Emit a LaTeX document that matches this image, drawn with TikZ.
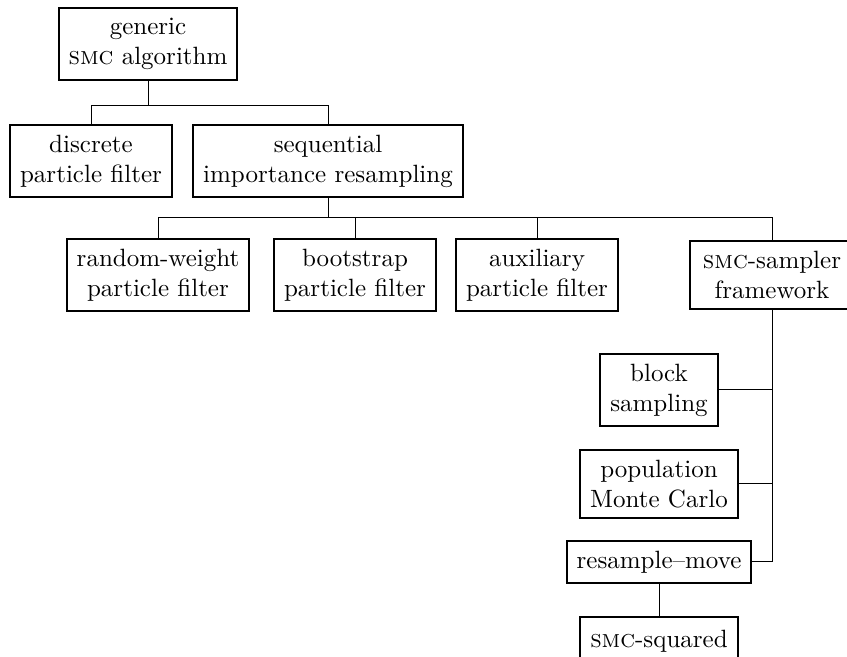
\documentclass[tikz,border=0pt]{standalone}
\usepackage{tikz}
\usetikzlibrary{positioning,calc}

\begin{document}
\begin{tikzpicture}[x=0.4pt,y=-0.4pt,
          every node/.style={font=\normalsize},
          box/.style={draw,line width=0.8pt,align=center,inner xsep=4pt,inner ysep=4pt},
          ln/.style={line width=0.4pt}]
        \useasboundingbox (0,0) rectangle (847,657);
        \node[box] (gen) at (148,44)  {generic\\\textsc{smc} algorithm};
        \node[box] (dpf) at (91,161)  {discrete\\particle filter};
        \node[box] (sir) at (328,161) {sequential\\importance resampling};
        \node[box] (rwp) at (158,275) {random-weight\\particle filter};
        \node[box] (bsp) at (355,275) {bootstrap\\particle filter};
        \node[box] (axp) at (537,275) {auxiliary\\particle filter};
        \node[box,minimum width=66pt] (smcs) at (772,275) {\textsc{smc}-sampler\\framework};
        \node[box] (blk) at (659,390) {block\\sampling};
        \node[box] (pmc) at (659,484) {population\\Monte Carlo};
        \node[box] (rsm) at (659,562) {resample--move};
        \node[box,minimum height=19pt] (sq) at (659,641) {\textsc{smc}-squared};
        % buses
        \coordinate (b1) at (148,106);
        \coordinate (b2) at (328,218);
        \draw[ln] (gen.south) -- (b1) -| (dpf.north);
        \draw[ln] (b1) -| (sir.north);
        \draw[ln] (sir.south) -- (b2);
        \foreach \n in {rwp,bsp,axp,smcs} \draw[ln] (b2) -| (\n.north);
        % trunk
        \draw[ln] (smcs.south) |- (rsm.east);
        \draw[ln] (blk.east) -- (blk.east -| smcs.south);
        \draw[ln] (pmc.east) -- (pmc.east -| smcs.south);
        \draw[ln] (rsm.south) -- (sq.north);
      \end{tikzpicture}
\end{document}
